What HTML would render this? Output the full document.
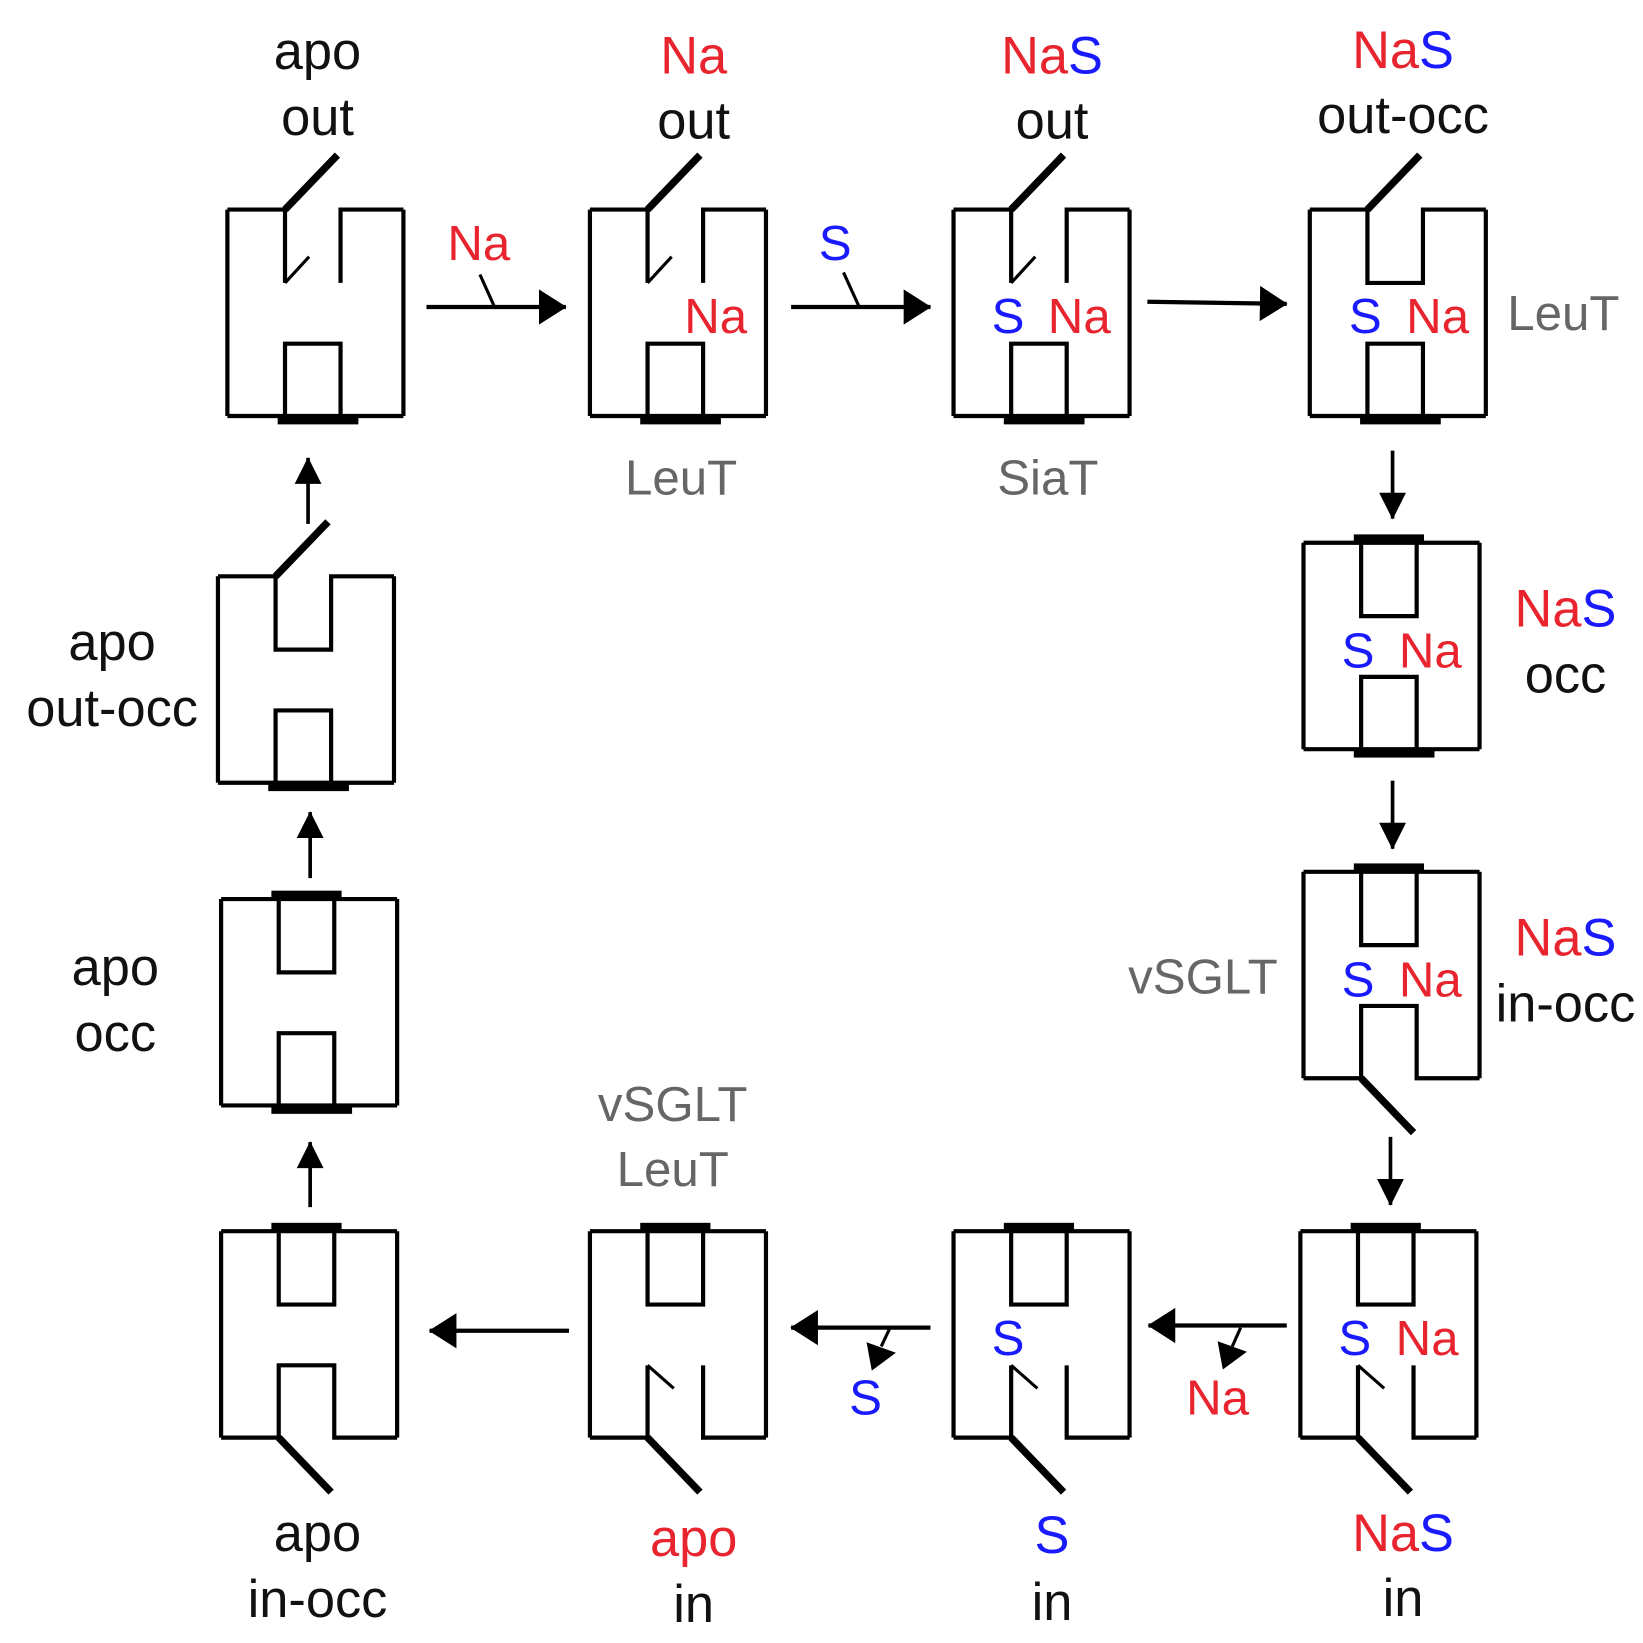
<!DOCTYPE html>
<html><head><meta charset="utf-8"><style>
html,body{margin:0;padding:0;background:#fff}
svg{display:block}
text{font-family:"Liberation Sans",sans-serif;text-anchor:middle}
.k{fill:#111}.r{fill:#e8242e}.b{fill:#1a1aff}.g{fill:#666}
.L{font-size:50px}.M{font-size:47px}
</style></head><body>
<svg width="1643" height="1643" viewBox="0 0 1568 1568" xmlns="http://www.w3.org/2000/svg">
<defs>
<marker id="ah" viewBox="0 0 10 10" refX="9" refY="5" markerWidth="8" markerHeight="8" markerUnits="userSpaceOnUse" orient="auto" style="overflow:visible">
<path d="M0,0 L10,5 L0,10 Z" fill="#000" transform="scale(3.2)" transform-origin="10 5"/>
</marker>
<marker id="ah2" viewBox="0 0 10 10" refX="9" refY="5" markerWidth="8" markerHeight="8" markerUnits="userSpaceOnUse" orient="auto" style="overflow:visible">
<path d="M0,0 L10,5 L0,10 Z" fill="#000" transform="scale(3.3,4.2)" transform-origin="10 5"/>
</marker>
<g id="sides"><path d="M0,0 V197 M168,0 V197" stroke="#000" stroke-width="4" fill="none"/></g>
<g id="topOpen" fill="none" stroke="#000"><path d="M0,0 H55 V70 M108,70 V0 H168" stroke-width="4"/><path d="M55,70 L78,45" stroke-width="3"/><path d="M55,0 L105,-52" stroke-width="7"/></g>
<g id="topOcc" fill="none" stroke="#000"><path d="M0,0 H55 V70 H108 V0 H168" stroke-width="4"/><path d="M55,0 L105,-52" stroke-width="7"/></g>
<g id="topClosed" fill="none" stroke="#000"><path d="M0,0 H168 M55,0 V70 H108 V0" stroke-width="4"/><rect x="48" y="-8" width="67" height="8" fill="#000" stroke="none"/></g>
<g id="botClosed" fill="none" stroke="#000"><path d="M0,197 H168 M55,197 V128 H108 V197" stroke-width="4"/><rect x="48" y="197" width="77" height="8" fill="#000" stroke="none"/></g>
<g id="botOpen" fill="none" stroke="#000"><path d="M0,197 H55 V128 M108,128 V197 H168" stroke-width="4"/><path d="M55,128 L80,150" stroke-width="3"/><path d="M55,197 L105,249" stroke-width="7"/></g>
<g id="botOcc" fill="none" stroke="#000"><path d="M0,197 H55 V128 H108 V197 H168" stroke-width="4"/><path d="M55,197 L105,249" stroke-width="7"/></g>
</defs>

<g transform="translate(217,200)"><use href="#sides"/><use href="#topOpen"/><use href="#botClosed"/></g>
<g transform="translate(563,200)"><use href="#sides"/><use href="#topOpen"/><use href="#botClosed"/></g>
<g transform="translate(910,200)"><use href="#sides"/><use href="#topOpen"/><use href="#botClosed"/></g>
<g transform="translate(1250,200)"><use href="#sides"/><use href="#topOcc"/><use href="#botClosed"/></g>
<g transform="translate(1244,518)"><use href="#sides"/><use href="#topClosed"/><use href="#botClosed"/></g>
<g transform="translate(1244,832)"><use href="#sides"/><use href="#topClosed"/><use href="#botOcc"/></g>
<g transform="translate(1241,1175)"><use href="#sides"/><use href="#topClosed"/><use href="#botOpen"/></g>
<g transform="translate(910,1175)"><use href="#sides"/><use href="#topClosed"/><use href="#botOpen"/></g>
<g transform="translate(563,1175)"><use href="#sides"/><use href="#topClosed"/><use href="#botOpen"/></g>
<g transform="translate(211,1175)"><use href="#sides"/><use href="#topClosed"/><use href="#botOcc"/></g>
<g transform="translate(211,858)"><use href="#sides"/><use href="#topClosed"/><use href="#botClosed"/></g>
<g transform="translate(208,550)"><use href="#sides"/><use href="#topOcc"/><use href="#botClosed"/></g>

<g stroke="#000" stroke-width="4" fill="none" marker-end="url(#ah2)">
<path d="M407,293 H540"/>
<path d="M755,293 H888"/>
<path d="M1095,288 L1228,290"/>
<path d="M1228,1265 H1096"/>
<path d="M888,1267 H755"/>
<path d="M543,1270 H410"/>
</g>
<g stroke="#000" stroke-width="3.5" fill="none" marker-end="url(#ah)">
<path d="M1329,430 V495"/>
<path d="M1329,745 V810"/>
<path d="M1327,1085 V1150"/>
<path d="M296,1152 V1090"/>
<path d="M296,838 V775"/>
<path d="M294,500 V437"/>
</g>
<g stroke="#000" stroke-width="3" fill="none">
<path d="M458,262 L472,293"/>
<path d="M805,260 L820,293"/>
<path d="M1184,1267 L1176,1285"/>
<path d="M849,1268 L841,1285"/>
</g>
<path d="M1167,1307 L1162,1280 L1190,1290 Z" fill="#000"/>
<path d="M832,1308 L827,1281 L855,1291 Z" fill="#000"/>

<text x="303" y="66" class="k L">apo</text>
<text x="303" y="129" class="k L">out</text>
<text x="662" y="70" class="r L">Na</text>
<text x="662" y="132" class="k L">out</text>
<text x="1004" y="70" class="L"><tspan class="r">Na</tspan><tspan class="b">S</tspan></text>
<text x="1004" y="132" class="k L">out</text>
<text x="1339" y="65" class="L"><tspan class="r">Na</tspan><tspan class="b">S</tspan></text>
<text x="1339" y="127" class="k L">out-occ</text>
<text x="457" y="248" class="r M">Na</text>
<text x="797" y="248" class="b M">S</text>
<text x="683" y="318" class="r M">Na</text>
<text x="962" y="318" class="b M">S</text><text x="1030" y="318" class="r M">Na</text>
<text x="1303" y="318" class="b M">S</text><text x="1372" y="318" class="r M">Na</text>
<text x="1492" y="315" class="g M">LeuT</text>
<text x="650" y="472" class="g M">LeuT</text>
<text x="1000" y="472" class="g M">SiaT</text>
<text x="1296" y="637" class="b M">S</text><text x="1365" y="637" class="r M">Na</text>
<text x="1494" y="598" class="L"><tspan class="r">Na</tspan><tspan class="b">S</tspan></text>
<text x="1494" y="661" class="k L">occ</text>
<text x="1296" y="951" class="b M">S</text><text x="1365" y="951" class="r M">Na</text>
<text x="1494" y="912" class="L"><tspan class="r">Na</tspan><tspan class="b">S</tspan></text>
<text x="1494" y="975" class="k L">in-occ</text>
<text x="1148" y="948" class="g M">vSGLT</text>
<text x="1293" y="1293" class="b M">S</text><text x="1362" y="1293" class="r M">Na</text>
<text x="1339" y="1480" class="L"><tspan class="r">Na</tspan><tspan class="b">S</tspan></text>
<text x="1339" y="1542" class="k L">in</text>
<text x="1162" y="1350" class="r M">Na</text>
<text x="962" y="1293" class="b M">S</text>
<text x="1004" y="1482" class="b L">S</text>
<text x="1004" y="1546" class="k L">in</text>
<text x="826" y="1350" class="b M">S</text>
<text x="642" y="1070" class="g M">vSGLT</text>
<text x="642" y="1132" class="g M">LeuT</text>
<text x="662" y="1485" class="r L">apo</text>
<text x="662" y="1548" class="k L">in</text>
<text x="303" y="1480" class="k L">apo</text>
<text x="303" y="1543" class="k L">in-occ</text>
<text x="110" y="940" class="k L">apo</text>
<text x="110" y="1003" class="k L">occ</text>
<text x="107" y="630" class="k L">apo</text>
<text x="107" y="693" class="k L">out-occ</text>
</svg>
</body></html>
